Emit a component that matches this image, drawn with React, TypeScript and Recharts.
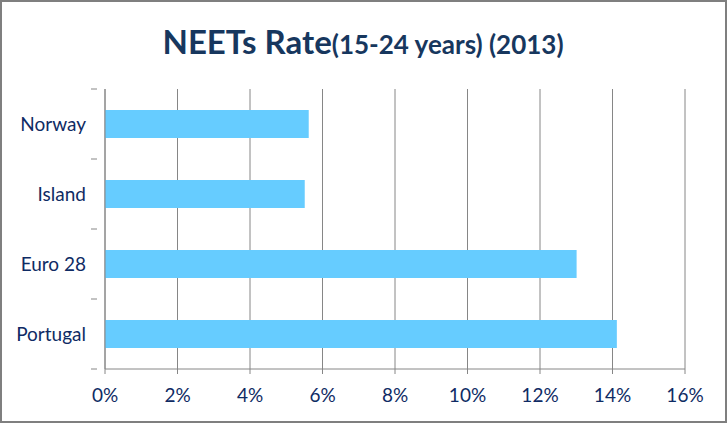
import React from 'react';
import { BarChart, Bar, XAxis, YAxis, CartesianGrid } from 'recharts';

const countries = ['Norway', 'Island', 'Euro 28', 'Portugal'];
const neetRates = [5.62, 5.51, 13.01, 14.12];
const xTicks = [0, 2, 4, 6, 8, 10, 12, 14, 16];

const data = countries.map((country, i) => ({ country, rate: neetRates[i] }));

const FONT = 'Lato, "Noto Sans", sans-serif';
const TICK_COLOR = '#0F2B64';
const GRID_COLOR = '#868686';

function CountryTick(props: any) {
    const { x, y, payload, index, visibleTicksCount } = props;
    const half = payload && payload.offset ? payload.offset : 35;
    const isLast = index === visibleTicksCount - 1;
    return (
        <g>
            <line x1={x - 6} x2={x} y1={y - half} y2={y - half} stroke={GRID_COLOR} />
            {isLast && <line x1={x - 6} x2={x} y1={y + half} y2={y + half} stroke={GRID_COLOR} />}
            <text x={86} y={y} dy="0.36em" textAnchor="end" fill={TICK_COLOR} fontSize={19} fontFamily={FONT}>
                {payload.value}
            </text>
        </g>
    );
}

export default function App() {
    return (
        <div style={{ position: 'absolute', left: 0, top: 0, width: 727, height: 423, background: '#fff' }}>
            <div
                style={{
                    position: 'absolute', left: 0, top: 0, width: 727, height: 423,
                    boxSizing: 'border-box', border: '2px solid #7f7f7f'
                }}
            />
            <svg width={727} height={70} style={{ position: 'absolute', left: 0, top: 0 }}>
                <text x={363} y={54} textAnchor="middle" fill="#17375E" fontFamily={FONT} fontWeight="bold">
                    <tspan fontSize={33}>NEETs Rate</tspan>
                    <tspan fontSize={26}>(15-24 years) (2013)</tspan>
                </text>
            </svg>
            <div style={{ position: 'absolute', left: 0, top: 0 }}>
                <BarChart
                    width={727}
                    height={423}
                    data={data}
                    layout="vertical"
                    margin={{ top: 89, right: 42, bottom: 0, left: 0 }}
                    barCategoryGap="30%"
                >
                    <CartesianGrid horizontal={false} stroke={GRID_COLOR} />
                    <XAxis
                        type="number"
                        domain={[0, 16]}
                        ticks={xTicks}
                        tickFormatter={(v: number) => `${v}%`}
                        height={54}
                        stroke={GRID_COLOR}
                        tickSize={5}
                        tickMargin={15}
                        tick={{ fill: TICK_COLOR, fontSize: 19, fontFamily: FONT }}
                        interval={0}
                    />
                    <YAxis
                        type="category"
                        dataKey="country"
                        width={105}
                        stroke={GRID_COLOR}
                        tickLine={false}
                        tick={<CountryTick />}
                        interval={0}
                    />
                    <Bar dataKey="rate" fill="#66CCFF" isAnimationActive={false} />
                </BarChart>
            </div>
        </div>
    );
}
